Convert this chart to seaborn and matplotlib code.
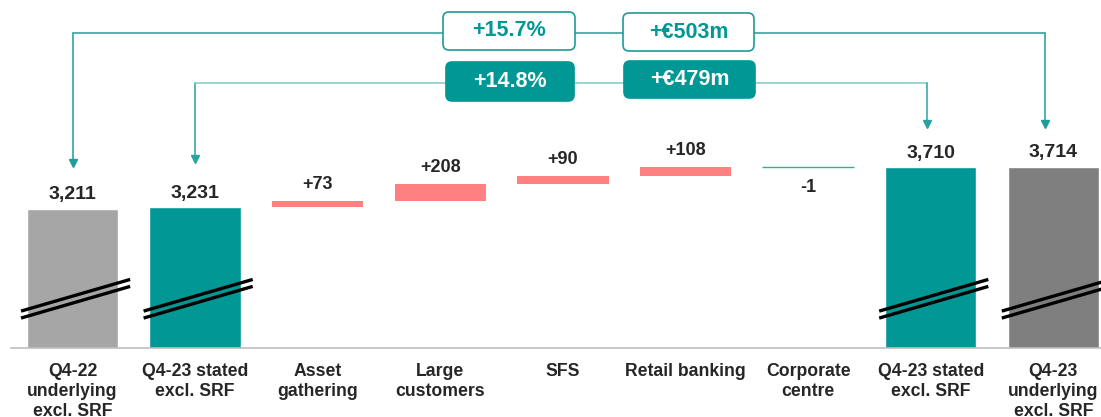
# Waterfall: Q4-22 underlying -> Q4-23 underlying (excl. SRF)
import pandas as pd
import matplotlib
matplotlib.use('Agg')
import matplotlib.pyplot as plt
import matplotlib.transforms as mtransforms
from matplotlib.patches import FancyBboxPatch
import seaborn as sns

# データ
keys       = ['q422u', 'q423s', 'ag', 'lc', 'sfs', 'rb', 'cc', 'q423s_b', 'q423u']
categories = ['Q4-22\nunderlying\nexcl. SRF', 'Q4-23 stated\nexcl. SRF', 'Asset\ngathering',
              'Large\ncustomers', 'SFS', 'Retail banking', 'Corporate\ncentre',
              'Q4-23 stated\nexcl. SRF', 'Q4-23\nunderlying\nexcl. SRF']
totals     = [3211, 3231, None, None, None, None, None, 3710, 3714]
deltas     = [None, None, 73, 208, 90, 108, -1, None, None]
box_texts  = ['+15.7%', '+€503m', '+14.8%', '+€479m']

# 色
GREY_L = '#a6a6a6'
TEAL   = '#009794'
GREY_D = '#7f7f7f'
PINK   = '#ff8080'
GREEN  = '#2db38f'
total_colors = {'q422u': GREY_L, 'q423s': TEAL, 'q423s_b': TEAL, 'q423u': GREY_D}

sns.set_style('white')
plt.rcParams['font.family'] = ['Liberation Sans', 'DejaVu Sans']

fig = plt.figure(figsize=(11.01, 4.17), dpi=100)
W, H = 1101, 417
STEP = 122.6          # px per category
LEFT = 11.2
ax = fig.add_axes([LEFT / W, 69 / H, (W - LEFT) / W, 348 / H])

# 合計バー (seaborn)
df_tot = pd.DataFrame({'key': keys, 'value': totals}).dropna()
sns.barplot(data=df_tot, x='key', y='value', hue='key', order=keys,
            palette=total_colors, saturation=1, width=0.745, legend=False, ax=ax)

# 増減バー
running = totals[1]
label_y = {}
for i, d in enumerate(deltas):
    if d is None:
        continue
    if d < 0:
        ax.bar(i, d, bottom=running, width=0.745, color=GREEN, edgecolor=GREEN, linewidth=1.0)
        label_y[i] = (running + d, 'below')
    else:
        ax.bar(i, d, bottom=running, width=0.745, color=PINK, linewidth=0)
        label_y[i] = (running + d, 'above')
    running += d

# ラベル
for i, v in enumerate(totals):
    if v is None:
        continue
    ax.annotate(f'{v:,}', (i, v), xytext=(0, 4), textcoords='offset points',
                ha='center', va='bottom', fontsize=14, fontweight='bold')
for i, d in enumerate(deltas):
    if d is None:
        continue
    y, pos = label_y[i]
    txt = f'{d:+d}'
    if pos == 'above':
        ax.annotate(txt, (i, y), xytext=(0, 6), textcoords='offset points',
                    ha='center', va='bottom', fontsize=13, fontweight='bold')
    else:
        ax.annotate(txt, (i, y), xytext=(0, -8), textcoords='offset points',
                    ha='center', va='top', fontsize=13, fontweight='bold')

# 軸
for s in ['left', 'right', 'top']:
    ax.spines[s].set_visible(False)
ax.spines['bottom'].set_color('#bfbfbf')
ax.spines['bottom'].set_linewidth(1.2)
ax.set_yticks([])
ax.set_xticks(range(len(keys)))
ax.set_xticklabels(categories, fontsize=12.7, fontweight='bold', linespacing=1.24)
ax.set_xticks([i - 0.5 for i in range(len(keys) + 1)], minor=True)
ax.tick_params(axis='x', which='major', length=0, pad=10.5)
ax.tick_params(axis='x', which='minor', length=4, color='#bfbfbf', width=1)
ax.set_xlabel('')
ax.set_ylabel('')
ax.set_ylim(1546, 5714)
ax.set_xlim(-0.5, -0.5 + (W - LEFT) / STEP)

# 軸の省略記号
bt = mtransforms.blended_transform_factory(ax.transData, ax.transAxes)
for i in [0, 1, 7, 8]:
    for y0, y1 in [(0.106, 0.197), (0.086, 0.177)]:
        ax.plot([i - 0.42, i + 0.47], [y0, y1], color='black', lw=2.4,
                transform=bt, clip_on=False, solid_capstyle='butt', zorder=5)

# 矢印
def connector(x0, x1, y_h, y_tip0, y_tip1, c_h, c_v):
    ax.plot([x0, x0], [y_tip0 + 0.012, y_h], color=c_v, lw=1.1, transform=bt, clip_on=False)
    ax.plot([x0, x1], [y_h, y_h], color=c_h, lw=1.1, transform=bt, clip_on=False)
    ax.plot([x1, x1], [y_h, y_tip1 + 0.012], color=c_v, lw=1.1, transform=bt, clip_on=False)
    ax.plot([x0, x1], [y_tip0 + 0.012, y_tip1 + 0.012], ls='none', marker='v',
            ms=6, color=c_v, mec=c_v, transform=bt, clip_on=False)

connector(0, 8 - 0.07, 0.905, 0.52, 0.632, '#1e9c99', '#1e9c99')
connector(1, 7 - 0.03, 0.761, 0.532, 0.632, '#80c9c6', '#2aa3a0')

# ボックス
boxes = [(443, 12, 132, 38, False), (623, 13, 131, 38, False),
         (446, 62, 128, 39, True), (624, 61, 131, 37, True)]
for (px, py, bw, bh, filled), txt in zip(boxes, box_texts):
    x, y = px / 100, (H - py - bh) / 100
    patch = FancyBboxPatch((x, y), bw / 100, bh / 100,
                           boxstyle='round,pad=0,rounding_size=0.06',
                           transform=fig.dpi_scale_trans,
                           facecolor=TEAL if filled else 'white',
                           edgecolor=TEAL if filled else '#1e9c99',
                           linewidth=1.2, zorder=10)
    fig.add_artist(patch)
    fig.text(x + bw / 200, y + bh / 200, txt, transform=fig.dpi_scale_trans,
             ha='center', va='center', fontsize=15.5, fontweight='bold',
             color='white' if filled else TEAL, zorder=11)

fig.savefig('out.png', dpi=100)
